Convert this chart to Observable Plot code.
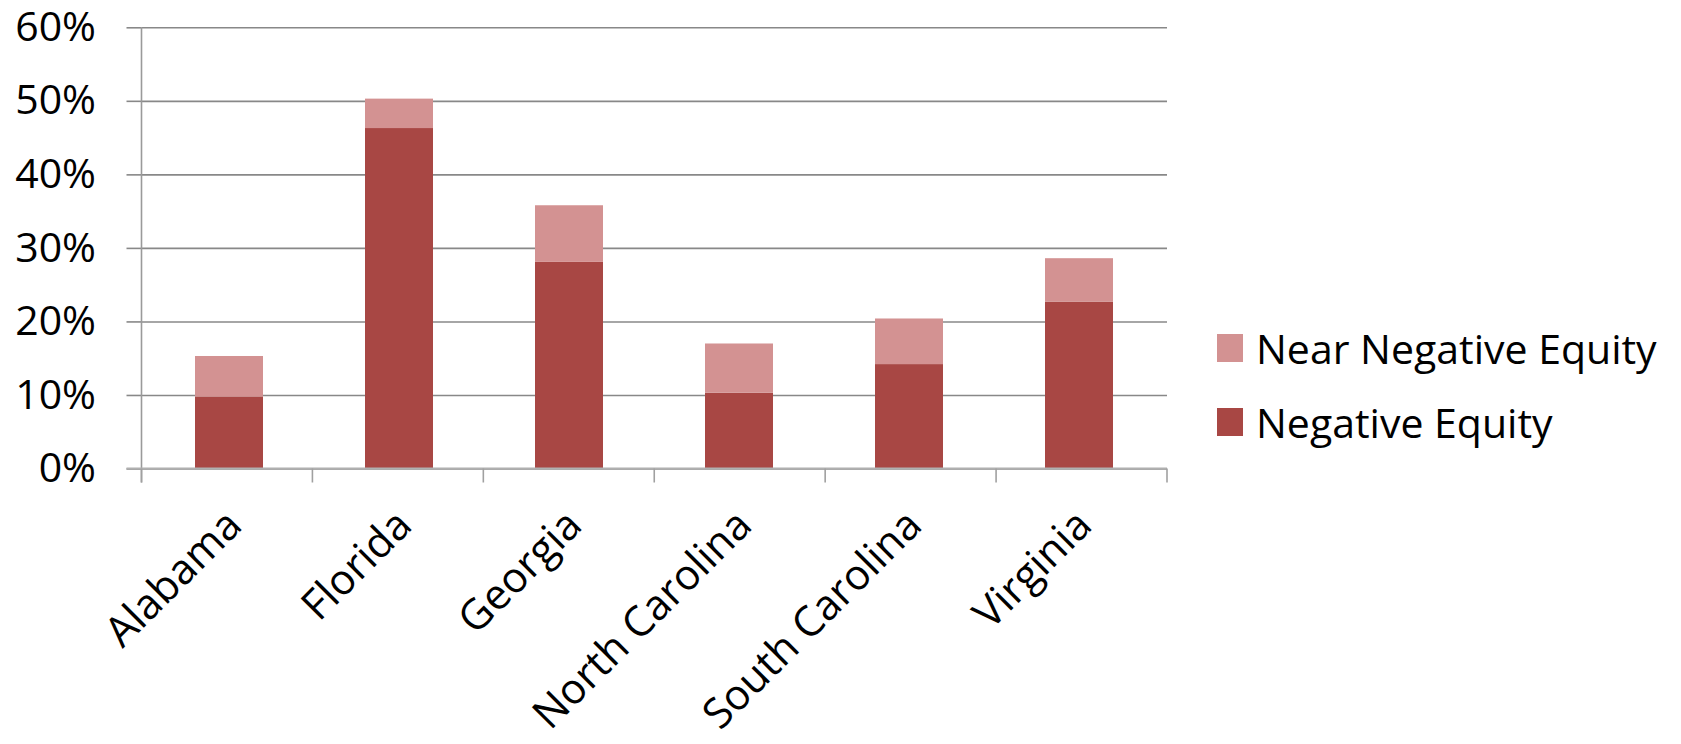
<!DOCTYPE html>
<html>
<head>
<meta charset="utf-8">
<script src="https://cdn.jsdelivr.net/npm/d3@7"></script>
<script src="https://cdn.jsdelivr.net/npm/@observablehq/plot@0.6"></script>
<style>
  body { margin: 0; background: #fff; font-family: "Open Sans", sans-serif; }
  #wrap { position: relative; width: 1681px; height: 744px; overflow: hidden; background: #fff; }
  #legend { position: absolute; left: 1217px; top: 320px; }
  .item { display: flex; align-items: center; height: 56px; margin-bottom: 18px; }
  .sw { width: 26px; height: 28px; margin-right: 13px; flex: none; }
  .lbl { font-size: 41px; color: #000; white-space: nowrap; line-height: 56px; }
</style>
</head>
<body>
<div id="wrap"><div id="chart"></div><div id="legend"></div></div>
<script>
// ---- data (percent) ----
const states = ["Alabama", "Florida", "Georgia", "North Carolina", "South Carolina", "Virginia"];
const negativeEquity = [9.8, 46.3, 28.1, 10.3, 14.2, 22.7];
const nearNegativeEquity = [5.5, 4.0, 7.7, 6.7, 6.2, 5.9];
const seriesNames = ["Negative Equity", "Near Negative Equity"];
const seriesColors = ["#a84744", "#d39292"];
const yTicks = [0, 10, 20, 30, 40, 50, 60];

const rows = [];
states.forEach((s, i) => {
  rows.push({state: s, series: seriesNames[0], value: negativeEquity[i]});
  rows.push({state: s, series: seriesNames[1], value: nearNegativeEquity[i]});
});

const W = 1681, H = 744;
const mL = 141.5, mR = W - 1167, mT = 27.3, mB = H - 468.5;

const axisLines = (index, scales, values, dims) => {
  const {width, marginLeft, marginRight, marginTop} = dims;
  const y0 = scales.y(0);
  const g = d3.create("svg:g").attr("fill", "none");
  g.append("line").attr("x1", marginLeft).attr("x2", marginLeft)
    .attr("y1", marginTop).attr("y2", y0 + 14)
    .attr("stroke", "#9a9a9a").attr("stroke-width", 1.6);
  g.append("line").attr("x1", marginLeft - 15).attr("x2", width - marginRight)
    .attr("y1", y0).attr("y2", y0)
    .attr("stroke", "#b0b0b0").attr("stroke-width", 2);
  const n = states.length;
  const step = (width - marginLeft - marginRight) / n;
  for (let i = 0; i <= n; i++) {
    const xe = marginLeft + i * step;
    g.append("line").attr("x1", xe).attr("x2", xe)
      .attr("y1", y0).attr("y2", y0 + 14)
      .attr("stroke", "#a0a0a0").attr("stroke-width", 1.6);
  }
  return g.node();
};

const chart = Plot.plot({
  width: W,
  height: H,
  marginLeft: mL,
  marginRight: mR,
  marginTop: mT,
  marginBottom: mB,
  style: {fontFamily: "Open Sans, sans-serif", fontSize: "41px", color: "#000", background: "#fff", overflow: "visible"},
  x: {domain: states, paddingInner: 0.6, paddingOuter: 0.3, label: null},
  y: {domain: [0, 60], label: null},
  color: {domain: seriesNames, range: seriesColors},
  marks: [
    Plot.gridY(yTicks, {stroke: "#888", strokeOpacity: 1, strokeWidth: 1.6}),
    Plot.axisY(yTicks, {tickSize: 15, tickPadding: 31, tickFormat: d => d + "%", stroke: "#888", strokeWidth: 1.6, fill: "#000", fontSize: 41, label: null}),
    Plot.barY(rows, Plot.stackY({x: "state", y: "value", fill: "series", order: seriesNames})),
    Plot.axisX({tickSize: 0, tickRotate: -45, tickPadding: 49, dx: 5, fontSize: 42, fill: "#000", label: null}),
    axisLines
  ]
});
document.getElementById("chart").appendChild(chart);

const legend = document.getElementById("legend");
[1, 0].forEach(i => {
  const item = document.createElement("div");
  item.className = "item";
  item.innerHTML = `<div class="sw" style="background:${seriesColors[i]}"></div><span class="lbl">${seriesNames[i]}</span>`;
  legend.appendChild(item);
});
</script>
</body>
</html>
